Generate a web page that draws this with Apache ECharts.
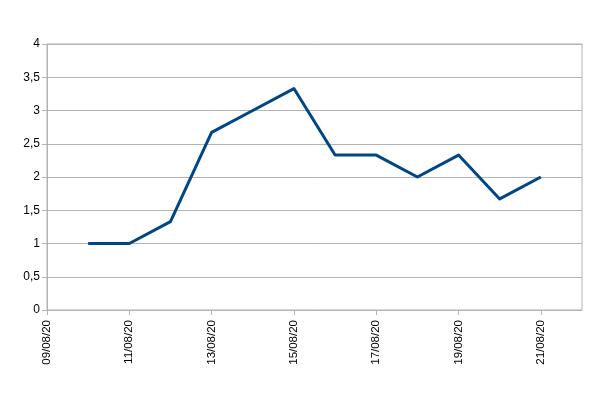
<!DOCTYPE html>
<html><head><meta charset="utf-8">
<script src="https://cdn.jsdelivr.net/npm/echarts@6/dist/echarts.min.js"></script>
<style>html,body{margin:0;padding:0;background:#fff}#c{width:603px;height:396px}</style>
</head><body><div id="c"></div>
<script>
const categories = ['09/08/20','10/08/20','11/08/20','12/08/20','13/08/20','14/08/20','15/08/20','16/08/20','17/08/20','18/08/20','19/08/20','20/08/20','21/08/20','22/08/20'];
const values = ['-', 1, 1, 1.33, 2.67, 3, 3.33, 2.33, 2.33, 2, 2.33, 1.67, 2, '-'];
const yTicks = [0, 0.5, 1, 1.5, 2, 2.5, 3, 3.5, 4];

const chart = echarts.init(document.getElementById('c'), null, {renderer:'canvas'});
chart.setOption({
  animation:false,
  grid:{left:47, right:21, top:44, bottom:86, show:true, borderColor:'#b3b3b3', borderWidth:1},
  xAxis:{
    type:'category', data:categories, boundaryGap:false,
    axisLine:{lineStyle:{color:'#b3b3b3', width:1}},
    axisTick:{show:true, length:5, interval:(i)=>i%2===0 && i<categories.length-1, lineStyle:{color:'#b3b3b3'}},
    axisLabel:{rotate:90, interval:(i)=>i%2===0 && i<categories.length-1, color:'#000', fontFamily:'Liberation Sans', fontSize:11.5, margin:10},
    splitLine:{show:false}
  },
  yAxis:{
    type:'value', min:0, max:4, interval:0.5,
    axisLine:{show:true, lineStyle:{color:'#b3b3b3', width:1}},
    axisTick:{show:true, length:5, lineStyle:{color:'#b3b3b3'}},
    axisLabel:{color:'#000', fontFamily:'Liberation Sans', fontSize:12, margin:7,
      formatter:(v)=>String(v).replace('.', ',')},
    splitLine:{lineStyle:{color:'#b3b3b3', width:1}}
  },
  series:[{
    type:'line', data:values, showSymbol:false, symbol:'none',
    lineStyle:{color:'#004586', width:3, join:'round'},
    itemStyle:{color:'#004586'}
  }]
});
</script></body></html>
